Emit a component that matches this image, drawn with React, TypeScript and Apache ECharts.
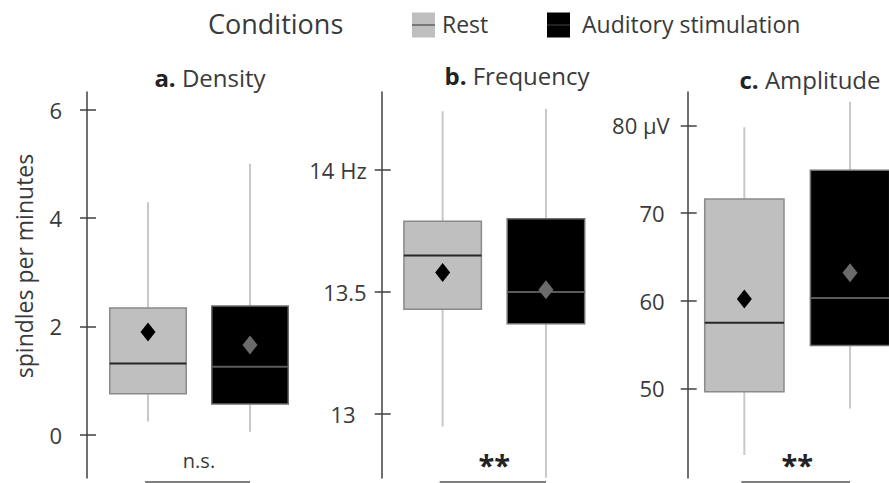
import React, { useEffect, useRef } from "react";
import * as echarts from "echarts";

// Conditions (categories)
const conditions = ["Rest", "Auditory stimulation"];

// Box statistics: [min, Q1, median, Q3, max, mean]
const densityRest = [0.25, 0.76, 1.32, 2.34, 4.29, 1.9];
const densityAudit = [0.06, 0.57, 1.26, 2.38, 5.0, 1.66];
const frequencyRest = [12.95, 13.43, 13.65, 13.79, 14.24, 13.58];
const frequencyAudit = [12.74, 13.37, 13.5, 13.8, 14.25, 13.51];
const amplitudeRest = [42.4, 49.6, 57.5, 71.6, 79.8, 60.2];
const amplitudeAudit = [47.7, 54.9, 60.3, 74.9, 82.7, 63.2];

// Tick values
const densityTicks = [0, 2, 4, 6];
const frequencyTicks = [13, 13.5, 14];
const amplitudeTicks = [50, 60, 70, 80];

// Significance labels
const significance = ["n.s.", "**", "**"];
const titleLetters = ["a.", "b.", "c."];
const titleNames = ["Density", "Frequency", "Amplitude"];

const FONT = "'Open Sans', 'Noto Sans', sans-serif";
const TEXT = "#3a3a3a";
const AXIS = "#404040";

const styles = [
  { fill: "#bfbfbf", stroke: "#8a8a8a", median: "#262626", mean: "#000000" },
  { fill: "#000000", stroke: "#6e6e6e", median: "#5a5a5a", mean: "#6b6b6b" },
];

// x positions: condition index 0 / 1 on a value axis, each panel shows from -0.5
const panels = [
  {
    rest: densityRest, audit: densityAudit, ticks: densityTicks,
    min: -0.793, max: 6.323, left: 97, width: 204, xMax: 1.5, offset: 10, margin: 25,
    fmt: (v: number) => String(v),
  },
  {
    rest: frequencyRest, audit: frequencyAudit, ticks: frequencyTicks,
    min: 12.739, max: 14.319, left: 391, width: 206.6, xMax: 1.5, offset: 9.3, margin: 15,
    fmt: (v: number) => (v === 14 ? "14 Hz" : v === 13 ? "{p13|13}" : String(v)),
  },
  {
    rest: amplitudeRest, audit: amplitudeAudit, ticks: amplitudeTicks,
    min: 39.77, max: 83.82, left: 691.5, width: 197.5, xMax: 1.3685, offset: 3.8, margin: 18,
    fmt: (v: number) => (v === 80 ? "80 µV" : "{pn|" + v + "}"),
  },
];

const GRID_TOP = 92;
const GRID_H = 386;

function boxRenderer(styleIdx: number) {
  const st = styles[styleIdx];
  return (params: any, api: any) => {
    const cat = api.value(0);
    const pMin = api.coord([cat, api.value(1)]);
    const pQ1 = api.coord([cat, api.value(2)]);
    const pMed = api.coord([cat, api.value(3)]);
    const pQ3 = api.coord([cat, api.value(4)]);
    const pMax = api.coord([cat, api.value(5)]);
    const pMean = api.coord([cat, api.value(6)]);
    const bw = api.size([1, 0])[0] * 0.75;
    const cx = pMed[0];
    return {
      type: "group",
      children: [
        {
          type: "line",
          shape: { x1: cx, y1: pMax[1], x2: cx, y2: pMin[1] },
          style: { stroke: "#c8c8c8", lineWidth: 2 },
        },
        {
          type: "rect",
          shape: { x: cx - bw / 2, y: pQ3[1], width: bw, height: pQ1[1] - pQ3[1] },
          style: { fill: st.fill, stroke: st.stroke, lineWidth: 1.5 },
        },
        {
          type: "line",
          shape: { x1: cx - bw / 2, y1: pMed[1], x2: cx + bw / 2, y2: pMed[1] },
          style: { stroke: st.median, lineWidth: 2 },
        },
        {
          type: "polygon",
          shape: {
            points: [
              [cx, pMean[1] - 9.5],
              [cx + 7.5, pMean[1]],
              [cx, pMean[1] + 9.5],
              [cx - 7.5, pMean[1]],
            ],
          },
          style: { fill: st.mean },
        },
      ],
    };
  };
}

function sigRenderer(params: any, api: any) {
  const label = api.value(2) as any;
  const x0 = api.coord([api.value(0), 0])[0];
  const x1 = api.coord([api.value(1), 0])[0];
  const cs = params.coordSys;
  const bottom = cs.y + cs.height;
  const isStar = String(label).indexOf("*") >= 0;
  return {
    type: "group",
    children: [
      {
        type: "line",
        shape: { x1: x0 - 3, y1: bottom + 4, x2: x1, y2: bottom + 4 },
        style: { stroke: "#555555", lineWidth: 1.5 },
      },
      {
        type: "text",
        x: (x0 + x1) / 2,
        y: isStar ? bottom - 14 : bottom - 18,
        style: {
          text: String(label),
          fontSize: isStar ? 29 : 20,
          fontWeight: isStar ? "bold" : "normal",
          fontFamily: FONT,
          fill: isStar ? "#222222" : TEXT,
          align: "center",
          verticalAlign: "middle",
        },
      },
    ],
  };
}

export default function App() {
  const ref = useRef<HTMLDivElement>(null);
  useEffect(() => {
    if (!ref.current) return;
    const chart = echarts.init(ref.current, null, { renderer: "svg" });

    const grid: any[] = [];
    const xAxis: any[] = [];
    const yAxis: any[] = [];
    const series: any[] = [];

    panels.forEach((p, i) => {
      grid.push({ left: p.left, width: p.width, top: GRID_TOP, height: GRID_H });
      xAxis.push({
        type: "value", gridIndex: i, min: -0.5, max: p.xMax,
        axisLine: { show: false, onZero: false }, axisTick: { show: false }, axisLabel: { show: false },
        splitLine: { show: false },
      });
      yAxis.push({
        type: "value", gridIndex: i, min: p.min, max: p.max, position: "left", offset: p.offset,
        axisLine: { show: true, onZero: false, lineStyle: { color: AXIS, width: 1.5 } },
        axisTick: { show: true, length: 7, customValues: p.ticks, lineStyle: { color: AXIS, width: 1.5 } },
        axisLabel: {
          show: true, customValues: p.ticks, margin: p.margin, formatter: p.fmt,
          fontSize: 22, fontFamily: FONT, color: TEXT,
          rich: {
            p13: { fontSize: 22, fontFamily: FONT, color: TEXT, padding: [0, 11, 0, 0] },
            pn: { fontSize: 22, fontFamily: FONT, color: TEXT, padding: [0, 5, 0, 0] },
          },
        },
        splitLine: { show: false },
      });
      yAxis.push({
        type: "value", gridIndex: i, min: p.min, max: p.max, position: "left", offset: p.offset,
        axisLine: { show: false, onZero: false },
        axisTick: { show: true, inside: true, length: 9, customValues: p.ticks, lineStyle: { color: AXIS, width: 1.5 } },
        axisLabel: { show: false },
        splitLine: { show: false },
      });
      series.push({
        type: "custom", name: conditions[0], xAxisIndex: i, yAxisIndex: 2 * i,
        renderItem: boxRenderer(0), data: [[0, ...p.rest]],
      });
      series.push({
        type: "custom", name: conditions[1], xAxisIndex: i, yAxisIndex: 2 * i,
        renderItem: boxRenderer(1), data: [[1, ...p.audit]],
      });
      series.push({
        type: "custom", name: "significance", xAxisIndex: i, yAxisIndex: 2 * i,
        renderItem: sigRenderer, data: [[0, 1, significance[i]]],
        dimensions: ["a", "b", { name: "label", type: "ordinal" }],
      });
    });

    const titleX = [210, 517, 810];
    const titleY = [77, 75, 79];
    const titleGraphics = titleNames.map((n, i) => ({
      type: "text",
      x: titleX[i],
      y: titleY[i],
      style: {
        text: "{b|" + titleLetters[i] + "} " + n,
        fontSize: 24, fontFamily: FONT, fill: TEXT,
        align: "center", verticalAlign: "middle",
        rich: { b: { fontSize: 24, fontFamily: FONT, fontWeight: "bold", fill: "#222222" } },
      },
    }));

    const graphic: any[] = [
      {
        type: "text", x: 208, y: 23,
        style: { text: "Conditions", fontSize: 27, fontFamily: FONT, fill: TEXT, align: "left", verticalAlign: "middle" },
      },
      { type: "rect", shape: { x: 412, y: 12.5, width: 23, height: 25 }, style: { fill: styles[0].fill } },
      { type: "line", shape: { x1: 412, y1: 25, x2: 435, y2: 25 }, style: { stroke: "#777777", lineWidth: 2 } },
      {
        type: "text", x: 442, y: 24,
        style: { text: conditions[0], fontSize: 23, fontFamily: FONT, fill: TEXT, align: "left", verticalAlign: "middle" },
      },
      { type: "rect", shape: { x: 547, y: 12.5, width: 23, height: 25 }, style: { fill: styles[1].fill } },
      { type: "line", shape: { x1: 547, y1: 25, x2: 570, y2: 25 }, style: { stroke: "#444444", lineWidth: 1 } },
      {
        type: "text", x: 582, y: 24,
        style: { text: conditions[1], fontSize: 23, fontFamily: FONT, fill: TEXT, align: "left", verticalAlign: "middle" },
      },
      {
        type: "text", x: 24, y: 266, rotation: Math.PI / 2,
        style: { text: "spindles per minutes", fontSize: 23, fontFamily: FONT, fill: TEXT, align: "center", verticalAlign: "middle" },
      },
      ...titleGraphics,
    ];

    chart.setOption({
      animation: false,
      backgroundColor: "#ffffff",
      grid, xAxis, yAxis, series, graphic,
    });
    return () => chart.dispose();
  }, []);
  return (
    <div
      ref={ref}
      style={{ position: "fixed", left: 0, top: 0, width: 889, height: 483, background: "#fff" }}
    />
  );
}
